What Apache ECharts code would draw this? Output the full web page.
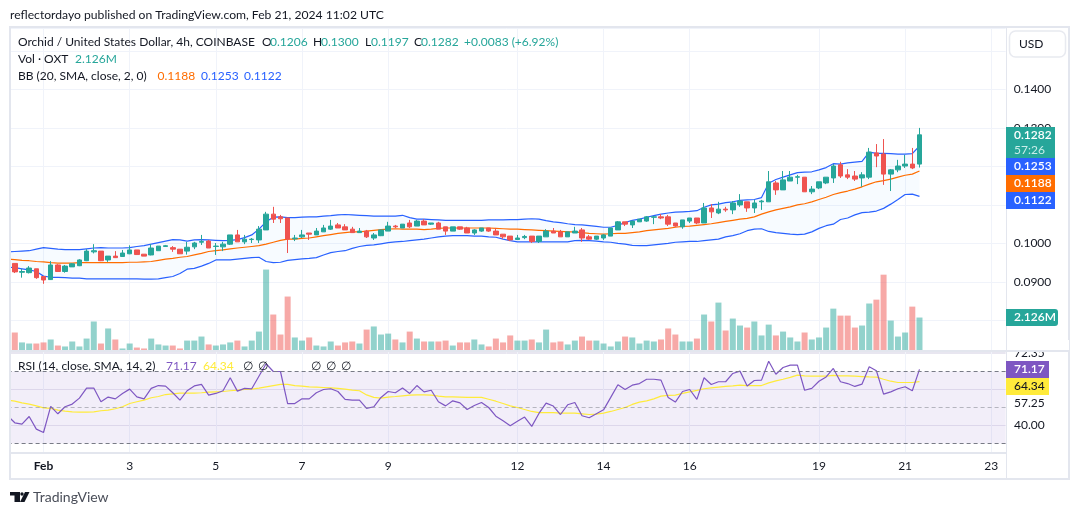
<!DOCTYPE html>
<html><head><meta charset="utf-8">
<style>html,body{margin:0;padding:0;background:#fff}#c{width:1080px;height:515px}</style>
<script src="https://cdn.jsdelivr.net/npm/echarts@6/dist/echarts.min.js"></script>
</head><body><div id="c"></div>
<script>
// Bar slots 1..127 are 4h candles; slot 0 is the bar just left of the visible pane.
const tickIndexes=[5,17,29,41,53,71,83,95,113,125,137];
const tickLabels=['Feb','3','5','7','9','12','14','16','19','21','23'];
const opens=[.0948,.0925,.0924,.0934,.0914,.0906,.0944,.0927,.0939,.0942,.0955,.0978,.098,.0957,.0967,.0966,.0973,.0983,.0972,.097,.0981,.0992,.0989,.0985,.098,.0991,.1003,.1006,.0992,.0991,.0998,.1022,.1004,.101,.1009,.1035,.1076,.1069,.1066,.1012,.1017,.1027,.1022,.103,.1037,.1048,.1043,.1037,.1028,.1032,.1014,.102,.1032,.1045,.104,.1053,.1045,.1058,.105,.1053,.1043,.1032,.1043,.104,.1027,.1032,.104,.1032,.1024,.1019,.101,.1015,.1019,.1005,.1017,.1032,.103,.1017,.1027,.1035,.1017,.1011,.1014,.1019,.1035,.1056,.1048,.1056,.1058,.1068,.1069,.1069,.1053,.1043,.1058,.1066,.1053,.1092,.1079,.1089,.1087,.11,.1108,.1092,.1108,.1108,.1157,.1139,.1162,.1172,.1172,.1134,.1144,.1157,.117,.1204,.1178,.1175,.117,.1172,.1235,.1232,.118,.1191,.1201,.1206,.1206];
const closes=[.0926,.0927,.0936,.0911,.0905,.0944,.0927,.0941,.0947,.0957,.098,.0981,.0955,.0967,.0963,.0975,.0983,.0971,.0967,.0988,.0993,.0994,.0985,.0973,.099,.1001,.1005,.0988,.0993,.0998,.1022,.1004,.1011,.1011,.1037,.1076,.1063,.1064,.1011,.1014,.1022,.1024,.1032,.104,.1045,.104,.1035,.1028,.1032,.1017,.1022,.1035,.1045,.1043,.105,.1043,.1058,.1048,.1053,.1037,.1032,.1043,.1037,.1027,.1035,.104,.1032,.1022,.1017,.1009,.1014,.1018,.1005,.1019,.1032,.1027,.1017,.103,.1032,.1014,.1011,.1019,.1022,.104,.1056,.105,.1058,.1063,.1069,.1069,.1066,.105,.1045,.1061,.1066,.1053,.1092,.1082,.1089,.1087,.1105,.111,.1092,.1105,.111,.116,.1139,.1165,.1172,.1173,.1134,.1141,.116,.1172,.1201,.1175,.1172,.1167,.1178,.1237,.1227,.118,.1191,.1201,.1206,.1196,.1282];
const lows=[.0923,.0911,.0922,.0908,.0895,.0905,.0926,.0924,.0939,.0941,.0954,.0974,.0954,.0952,.0962,.0965,.0972,.097,.0967,.0969,.0981,.0991,.0978,.0973,.0971,.0985,.0996,.0988,.097,.098,.0996,.1004,.0998,.1001,.1001,.1035,.1053,.1053,.0975,.1006,.1014,.1009,.1022,.103,.1035,.104,.1035,.1027,.1027,.1014,.1009,.1019,.1032,.104,.104,.104,.1045,.1048,.1048,.1037,.1022,.1032,.1035,.1027,.1022,.103,.103,.1022,.1012,.1006,.1009,.1011,.1001,.1001,.1017,.1027,.1017,.1017,.1027,.1004,.1009,.1009,.1009,.1019,.1035,.1045,.104,.1056,.1056,.105,.1063,.1045,.1043,.1038,.1053,.105,.1053,.1066,.1076,.1082,.1076,.1095,.1082,.1079,.1087,.1108,.1126,.1139,.1162,.1154,.1134,.1128,.1141,.1154,.1157,.117,.1167,.1162,.1147,.1167,.1198,.1152,.1136,.1185,.1196,.1193,.1197];
const highs=[.0948,.0934,.0941,.0934,.0914,.0954,.0946,.0944,.0949,.0959,.0985,.0998,.098,.0967,.098,.0983,.0995,.0983,.0972,.0998,.0993,.0996,.0993,.0985,.1004,.1004,.1022,.1009,.1001,.1004,.1022,.1035,.1022,.1014,.1045,.1082,.1095,.1074,.1066,.1022,.1035,.1027,.104,.1048,.1061,.1053,.105,.1043,.104,.1035,.1027,.1035,.1056,.1048,.105,.1061,.1061,.1063,.1053,.1056,.1043,.1043,.1043,.1043,.1037,.104,.104,.104,.1024,.1019,.1022,.1022,.1019,.1019,.1037,.104,.1035,.103,.1043,.104,.1022,.1019,.1024,.104,.1058,.1056,.1058,.1063,.1071,.1071,.1076,.1074,.1053,.1061,.1066,.1066,.1105,.1102,.1108,.1095,.111,.1128,.1108,.1113,.1113,.1188,.1162,.1188,.1188,.1178,.1172,.1149,.116,.1172,.1206,.1212,.1193,.1188,.1185,.1248,.1258,.1271,.1193,.1217,.123,.1248,.13];
const volumes=[1.16,.52,.45,.45,.52,.71,.32,.26,.58,.26,.77,1.87,.45,1.42,.71,.13,.45,.19,.13,.77,.39,.32,.32,.13,.64,.64,.9,.39,.32,.39,.52,.64,.26,.64,1.22,5.22,2.32,1.03,3.48,.84,.64,.84,.32,.26,.58,.32,.52,.58,.45,1.35,1.55,1.03,1.09,.71,.52,1.22,.77,.58,.58,.58,.64,.32,.52,.52,.71,.39,.26,.77,.52,.97,.64,.64,.71,.52,1.35,.52,.58,.39,.64,.9,.64,.64,.45,.26,.58,.9,.84,.45,.64,.58,.71,1.42,1.03,.58,.58,.77,2.32,1.87,3.09,1.29,2.06,1.61,1.48,1.87,.97,1.67,.97,1.22,.84,.58,1.16,.71,.84,1.48,2.7,2.25,2.25,1.48,1.61,3.03,3.28,4.89,1.93,.9,1.16,2.83,2.126];
const bbUpper=[.0978,.0979,.098,.0981,.0985,.0989,.0987,.0985,.0984,.0984,.0984,.0986,.0988,.0989,.0988,.0988,.0988,.0989,.0992,.0994,.0998,.1002,.1006,.101,.1009,.1006,.1009,.101,.1009,.1008,.1007,.1008,.101,.1015,.1022,.1037,.1056,.1068,.1069,.1067,.1067,.1068,.1069,.1069,.1071,.1072,.1074,.1075,.1074,.1073,.1072,.1071,.1071,.1071,.1071,.1073,.1067,.1063,.1063,.1062,.1061,.106,.106,.106,.106,.106,.106,.1061,.1061,.1061,.1062,.1062,.1063,.1064,.1063,.1059,.1056,.1054,.1051,.1049,.1048,.1046,.1044,.1042,.1042,.1047,.1054,.106,.1063,.1068,.1072,.1076,.1079,.1081,.1082,.1083,.1085,.1094,.11,.1102,.1106,.1108,.1112,.1113,.1114,.1119,.1156,.1166,.1172,.1178,.1184,.1185,.1186,.1191,.1197,.1207,.1206,.1209,.1211,.1213,.1237,.1234,.1234,.1233,.1232,.1232,.1233,.1253];
const bbBasis=[.0959,.0958,.0956,.0955,.0953,.0952,.095,.0949,.0949,.0949,.095,.095,.095,.095,.095,.095,.095,.0951,.0951,.0952,.0953,.0956,.0959,.0961,.0964,.0966,.097,.0974,.0979,.0981,.0983,.0986,.0988,.099,.0992,.0994,.0998,.1003,.1008,.1011,.1011,.1013,.1014,.1017,.102,.1023,.1026,.1028,.103,.103,.1032,.1034,.1036,.1037,.1038,.1037,.1037,.1037,.1036,.1037,.1039,.104,.104,.104,.104,.104,.104,.104,.1039,.1038,.1037,.1037,.1036,.1035,.1034,.1033,.1032,.1031,.103,.103,.1028,.1026,.1025,.1024,.1025,.1026,.1026,.1028,.103,.1033,.1035,.1037,.1039,.1042,.1044,.1045,.1047,.1049,.1051,.1054,.1057,.106,.1063,.1065,.1069,.1076,.1082,.1087,.1091,.1095,.11,.1103,.1108,.1114,.112,.1127,.1132,.1136,.1141,.1147,.1154,.116,.1163,.1167,.1172,.1177,.118,.1188];
const bbLower=[.0938,.0937,.0934,.0931,.0927,.0915,.0912,.0912,.0911,.091,.091,.0908,.0908,.0908,.0908,.0908,.0908,.0908,.0908,.0907,.0907,.0908,.0911,.0914,.0922,.0933,.0935,.0941,.0948,.0957,.0957,.0957,.0959,.0961,.0963,.0964,.0953,.095,.0951,.0956,.0958,.096,.0961,.0963,.097,.0976,.0979,.0981,.0987,.0992,.0995,.0996,.0999,.1002,.1004,.1005,.1007,.1009,.1011,.1014,.1017,.1019,.102,.102,.102,.1019,.1019,.1017,.1016,.1011,.1007,.1004,.1004,.1004,.1004,.1004,.1004,.1004,.1004,.1007,.1008,.1007,.1006,.1004,.1003,.1,.0998,.0995,.0994,.0994,.0996,.0998,.1,.1003,.1004,.1005,.1005,.1007,.1009,.1011,.1017,.102,.1025,.1033,.1037,.1038,.1031,.1028,.1026,.1024,.1023,.1024,.103,.1039,.1046,.105,.1062,.1066,.1074,.108,.1081,.1084,.1091,.1102,.1114,.1127,.1128,.1122];
const rsi=[45.4,41.5,40.8,45,38,36.1,50.6,46.5,50.4,51.9,55.2,60.8,60.8,53.2,55.8,54.8,57.8,60.2,55.9,54.8,60.6,62.2,61.9,58.2,54.1,59.3,62,62.8,56.9,57.8,59.3,66.5,59.1,60.6,60.4,67.4,74.3,70,70,52.2,52.2,54.8,54.8,58.2,60,60.4,58.9,54.5,54.1,54.1,49.5,50.4,55.6,58.9,58.2,60.8,57.8,62.2,58.7,59.6,53.2,50.9,53.7,52.6,48.9,51.1,52.8,50,45.2,42.6,39.8,42.3,44.7,39.5,46.7,52.4,50.8,46.1,51.5,52.8,45.4,44.3,46.5,48.7,55.6,62.6,60,62.4,63.3,65.7,65.7,65.2,55.6,53,58.9,60,54.5,66.5,62.8,64.3,64.3,68.9,70.2,62,65,65.2,75.7,68.5,72.2,73.5,73.5,59.6,60.6,64.6,67,71.7,64.3,63.3,61.7,63,72.6,70.4,57.4,58.7,60.4,61.5,59.3,71.17];
const rsiMa=[54.1,53.5,52.6,51.9,50.9,49.8,49.5,48.5,48,47.6,47.4,47.4,47.6,48.2,48.5,49.3,50.4,52.2,53.2,54.1,55.4,56.1,57.2,57.6,58,58,58,58.2,58.5,58.7,58.9,59.3,59.6,60,60.2,60.8,61.5,62.2,62.8,62.8,62.2,61.9,61.5,61.3,61.1,60.9,60.6,60.2,59.6,59.3,57,55.6,55.2,55.8,56.1,56.5,56.9,57,57,56.9,56.3,55.9,55.9,55.8,55.6,55.6,55.6,54.6,53.5,52.2,50.9,50,48.9,47.8,47.2,47.2,47.1,46.9,46.9,46.9,46.5,46.1,46.3,46.9,47.8,48.9,50,51.7,53,53.7,54.8,56.3,56.7,56.9,57.8,58.7,59.5,60.4,60.9,61.3,61.7,62,62.4,62.2,62.2,62.2,63.7,64.8,65.7,66.7,68,67.6,67.4,67.4,67.4,67.8,67.6,67.6,67.4,67.2,67,66.9,65.7,64.6,63.9,63.9,63.9,64.34];

const SLOTS=140, UI='Lato, "Noto Sans", sans-serif';
const GREEN='#26a69a',RED='#ef5350',BLUE='#2962ff',ORANGE='#ff6d00',PURPLE='#7e57c2',YELLOW='#ffeb3b',INK='#131722';
const GRID='#f0f3fa', FRAME='#e3e6ee';
const categories=Array.from({length:SLOTS},(_,i)=>{const k=tickIndexes.indexOf(i);return k<0?'':tickLabels[k];});
const isTick=i=>tickIndexes.includes(i);
const candles=[['-','-','-','-']].concat(opens.map((o,i)=>[o,closes[i],lows[i],highs[i]]));
const volBars=[{value:'-'}].concat(volumes.map((v,i)=>({value:v,itemStyle:{color:closes[i]>=opens[i]?'rgba(38,166,154,.5)':'rgba(239,83,80,.5)'}})));
const bandWidth=bbUpper.map((u,i)=>+(u-bbLower[i]).toFixed(4));
const gridPos={left:7.62,right:74.36};
const xBase={type:'category',boundaryGap:false,data:categories,axisLine:{show:false},axisTick:{show:false},
  splitLine:{show:true,interval:isTick,lineStyle:{color:GRID,width:1}}};
const line=(name,data,color,extra)=>Object.assign({name,type:'line',data,symbol:'none',lineStyle:{color,width:1.2},itemStyle:{color},silent:true},extra||{});

// header / overlay helpers (page furniture, not data marks)
const T=(x,y,text,fill,o)=>({type:'text',z:90,silent:true,x,y,style:Object.assign({text,fill:fill||INK,font:'12px '+UI,textVerticalAlign:'middle'},o||{})});
const R=(x,y,w,h,fill,z,r)=>({type:'rect',z:z||70,silent:true,shape:{x,y,width:w,height:h,r:r||0},style:{fill}});
const tag=(x,y,w,h,fill,text,color,o)=>[R(x,y,w,h,fill,92,o&&o.r||0),
  {type:'text',z:93,silent:true,x:x+8,y:y+h/2,style:{text,fill:color,font:(o&&o.weight||'600')+' 12px '+UI,textVerticalAlign:'middle'}}];

const gfx=[
  // masks outside pane
  R(0,20,10,465,'#fff',70),
  R(1008,340,61,10,'#fff',95),
  // frame
  {type:'rect',z:75,silent:true,shape:{x:10,y:27,width:1059,height:452},style:{fill:null,stroke:FRAME,lineWidth:2}},
  {type:'line',z:75,silent:true,shape:{x1:1006.5,y1:28,x2:1006.5,y2:479},style:{stroke:FRAME,lineWidth:1}},
  {type:'line',z:96,silent:true,shape:{x1:10,y1:351,x2:1069,y2:351},style:{stroke:FRAME,lineWidth:2}},
  {type:'line',z:75,silent:true,shape:{x1:10,y1:453,x2:1006,y2:453},style:{stroke:FRAME,lineWidth:2}},
  T(10,15,'reflectordayo published on TradingView.com, Feb 21, 2024 11:02 UTC',INK,{font:'12.15px '+UI}),
  T(18,42,'Orchid / United States Dollar, 4h, COINBASE'),
  T(262,42,'O'),T(270,42,'0.1206',GREEN),T(313,42,'H'),T(321,42,'0.1300',GREEN),T(365,42,'L'),T(371,42,'0.1197',GREEN),T(414,42,'C'),T(421,42,'0.1282',GREEN),T(464,42,'+0.0083 (+6.92%)',GREEN),
  T(18,59,'Vol · OXT'),T(75,59,'2.126M',GREEN),
  T(18,76,'BB (20, SMA, close, 2, 0)'),T(157.5,76,'0.1188',ORANGE),T(201,76,'0.1253',BLUE),T(244,76,'0.1122',BLUE),
  T(18,366,'RSI (14, close, SMA, 14, 2)'),T(166,366,'71.17',PURPLE),T(203,366,'64.34',YELLOW),
  T(243,366,'∅'),T(258,366,'∅'),T(311,366,'∅'),T(326,366,'∅'),T(341,366,'∅'),
  // USD button
  {type:'rect',z:91,silent:true,shape:{x:1009.5,y:31,width:56,height:26,r:6},style:{fill:'#fff',stroke:'#e8eaf0',lineWidth:1.5}},
  Object.assign(T(1019,44,'USD',INK),{z:93}),
  // RSI side labels
  T(1014,353.5,'72.35','#131722'),T(1014,403.5,'57.25','#131722'),T(1014,425.5,'40.00','#131722'),
  // footer logo
  {type:'polygon',z:90,silent:true,shape:{points:[[10,492],[20,492],[20,502],[14.5,502],[14.5,495.5],[10,495.5]]},style:{fill:INK}},
  {type:'circle',z:90,silent:true,shape:{cx:22,cy:494,r:1.7},style:{fill:INK}},
  {type:'polygon',z:90,silent:true,shape:{points:[[25,492],[29.5,492],[24.5,502],[20,502]]},style:{fill:INK}},
  T(33,497.5,'TradingView','#4a4e59',{font:'14px '+UI}),
].concat(
  tag(1006,127,49,31,GREEN,'0.1282','#fff'),
  [Object.assign(T(1014,150,'57:26','#c9eeea'),{z:93})],
  tag(1006,158,49,17,BLUE,'0.1253','#fff'),
  tag(1006,175,49,17,ORANGE,'0.1188','#fff'),
  tag(1006,192,49,17,BLUE,'0.1122','#fff'),
  tag(1006,309,52,17,GREEN,'2.126M','#fff',{r:[0,3,3,0]}),
  tag(1006,361,43,17,PURPLE,'71.17','#fff'),
  tag(1006,378,43,17,YELLOW,'64.34',INK,{weight:'500'})
);
// tag text for the first price tag sits in the upper half
gfx.forEach(e=>{if(e.type==='text'&&e.style.text==='0.1282'&&e.x===1014)e.y=135;});

const chart=echarts.init(document.getElementById('c'),null,{renderer:'canvas'});
chart.setOption({
  animation:false,backgroundColor:'#fff',
  grid:[Object.assign({top:28,height:322.5},gridPos),Object.assign({top:352,height:100.5},gridPos)],
  xAxis:[Object.assign({},xBase,{gridIndex:0,axisLabel:{show:false}}),
    Object.assign({},xBase,{gridIndex:1,axisLabel:{show:true,interval:isTick,color:INK,fontFamily:UI,fontSize:12,margin:8,
      formatter:v=>v==='Feb'?'{b|Feb}':v,rich:{b:{fontFamily:UI,fontSize:12,fontWeight:700,color:INK}}}})],
  yAxis:[
    {type:'value',gridIndex:0,position:'right',min:.07218,max:.15595,splitNumber:8,scale:true,
      axisLine:{show:false},axisTick:{show:false},splitLine:{lineStyle:{color:GRID,width:1}},
      axisLabel:{showMinLabel:false,showMaxLabel:false,margin:8,color:'#131722',fontFamily:UI,fontSize:12,formatter:v=>v.toFixed(4)}},
    {type:'value',gridIndex:0,min:0,max:20.8,show:false,splitLine:{show:false}},
    {type:'value',gridIndex:1,position:'right',min:25,max:80.83,splitNumber:3,
      axisLine:{show:false},axisTick:{show:false},axisLabel:{show:false},splitLine:{lineStyle:{color:'#e8e6f0',width:1}}}
  ],
  series:[
    {name:'Vol',type:'bar',xAxisIndex:0,yAxisIndex:1,data:volBars,barWidth:6,z:1,silent:true},
    line('bbFloor',bbLower,'transparent',{xAxisIndex:0,yAxisIndex:0,stack:'bb',lineStyle:{width:0},z:2}),
    line('bbBand',bandWidth,'transparent',{xAxisIndex:0,yAxisIndex:0,stack:'bb',lineStyle:{width:0},areaStyle:{color:'rgba(33,150,243,.05)'},z:2}),
    line('Upper',bbUpper,BLUE,{xAxisIndex:0,yAxisIndex:0,z:3}),
    line('Basis',bbBasis,ORANGE,{xAxisIndex:0,yAxisIndex:0,z:3}),
    line('Lower',bbLower,BLUE,{xAxisIndex:0,yAxisIndex:0,z:3}),
    {name:'OXT',type:'candlestick',xAxisIndex:0,yAxisIndex:0,data:candles,barWidth:5,z:4,silent:true,
      itemStyle:{color:GREEN,color0:RED,borderColor:GREEN,borderColor0:RED,borderWidth:1}},
    line('RSI',rsi,PURPLE,{xAxisIndex:1,yAxisIndex:2,z:4,
      markArea:{silent:true,itemStyle:{color:'rgba(126,87,194,.1)'},data:[[{yAxis:30},{yAxis:70}]]},
      markLine:{silent:true,symbol:'none',label:{show:false},data:[
        {yAxis:70,lineStyle:{color:'#787b86',type:[4,3],width:1}},
        {yAxis:50,lineStyle:{color:'rgba(120,123,134,.5)',type:[4,3],width:1}},
        {yAxis:30,lineStyle:{color:'#787b86',type:[4,3],width:1}}]}}),
    line('RSI MA',rsiMa,YELLOW,{xAxisIndex:1,yAxisIndex:2,z:3})
  ],
  graphic:{elements:gfx}
});
</script></body></html>
